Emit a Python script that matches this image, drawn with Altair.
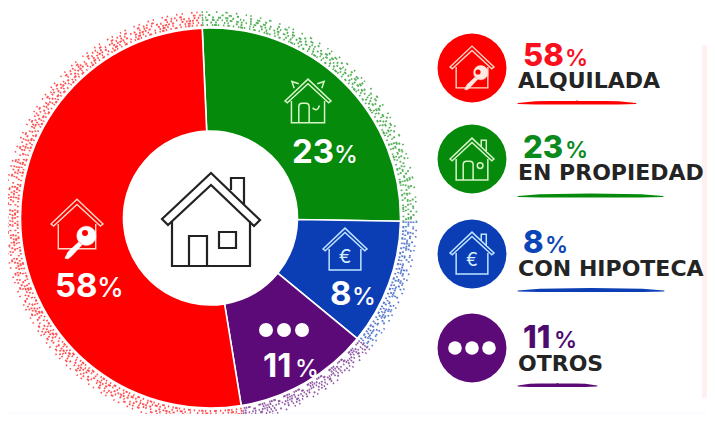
import altair as alt
import pandas as pd

# ---- values ----
categories = ["EN PROPIEDAD", "CON HIPOTECA", "OTROS", "ALQUILADA"]
percent_labels = ["23", "8", "11", "58"]
slice_spans_deg = [93.5, 38.4, 41.3, 186.8]   # slices as actually drawn
start_deg = -2.5
slice_colors = ["#058a0b", "#0b3db5", "#5c0a78", "#ff0000"]
text_colors = ["#0a8a1c", "#0b45b8", "#4f0a70", "#fa0f1e"]

W, H = 699, 406
CX, CY, R_OUT, R_IN = 210.5, 218, 190, 87

xs = alt.Scale(domain=[8, 8 + W], nice=False, zero=False)
ys = alt.Scale(domain=[8 + H, 8], nice=False, zero=False)
X = lambda f="x": alt.X(f"{f}:Q", scale=xs, axis=None)
Y = lambda f="y": alt.Y(f"{f}:Q", scale=ys, axis=None)
TAU = 6.283185307
off = start_deg / 360 * TAU
TH = alt.Scale(domain=[0, 360], range=[off, off + TAU])

starts, acc = [], 0
for s in slice_spans_deg:
    starts.append(acc)
    acc += s
arcs = pd.DataFrame({"cat": categories, "start": starts,
                     "end": [a + b for a, b in zip(starts, slice_spans_deg)],
                     "color": slice_colors, "x": CX, "y": CY})

def arc_layer(**mk):
    return alt.Chart(arcs).mark_arc(**mk).encode(
        x=X(), y=Y(),
        theta=alt.Theta("start:Q", scale=TH),
        theta2=alt.Theta2("end:Q"),
    )

layers = []

# faint page tints
panel = pd.DataFrame({"x": [702, 8], "x2": [707, 707], "y": [45, 412], "y2": [398, 414], "c": ["#fff1ef", "#fbfcff"]})
layers.append(alt.Chart(panel).mark_rect().encode(
    x=X(), x2="x2:Q", y=Y(), y2="y2:Q", color=alt.Color("c:N", scale=None)))

# speckled rim: irregularly dashed rings in each slice's colour
rings = [(193, [1.6, 3, 1.4, 6, 1.8, 2, 1.4, 9], 1.9),
         (195.5, [1.4, 7, 1.8, 3, 1.4, 11], 2.0),
         (198, [1.8, 2, 1.4, 5, 1.6, 8, 1.4, 3], 1.8),
         (200.5, [1.4, 9, 1.8, 4, 1.4, 6, 1.6, 13], 2.0),
         (203, [1.6, 5, 1.4, 12, 1.8, 7], 1.8),
         (206, [1.4, 13, 1.6, 8, 1.4, 19], 1.7)]
for r, dash, sw in rings:
    layers.append(arc_layer(radius=r, radius2=r, filled=False, strokeDash=dash,
                            strokeWidth=sw, opacity=0.68).encode(
        stroke=alt.Stroke("color:N", scale=None)))

# donut
layers.append(arc_layer(radius=R_OUT, radius2=R_IN, stroke="white", strokeWidth=1.6).encode(
    fill=alt.Fill("color:N", scale=None)))

HOUSE = ("M-1,0 L0,-0.95 L1,0 L0.9,0.08 L0,-0.75 L-0.9,0.08 Z "
         "M-0.72,0 V0.95 H0.72 V0")
DOOR = "M-0.4,0.95 V0.25 Q-0.4,0.1 -0.25,0.1 H-0.1 Q0.05,0.1 0.05,0.25 V0.95"
HOUSE_DOOR = HOUSE + " " + DOOR
WINDOW_DOT = " M0.5,0.3 A0.13,0.13 0 1 1 0.24,0.3 A0.13,0.13 0 1 1 0.5,0.3"
CHIMNEY = " M0.42,-0.55 V-0.85 H0.65 V-0.3"
CENTER = ("M-0.98,-0.02 L0,-0.94 L0.98,0 L0.86,0.12 L0,-0.7 L-0.86,0.1 Z "
          "M-0.78,0.02 V0.92 H0.78 V0.02 "
          "M-0.44,0.92 V0.32 H-0.08 V0.92 "
          "M0.16,0.24 H0.5 V0.56 H0.16 Z "
          "M0.4,-0.6 V-0.84 H0.66 V-0.32")
KEY = ("M-0.95,0.95 L-0.75,0.55 L-0.05,-0.1 L0.15,0.1 L-0.55,0.85 L-0.75,1.0 Z "
       "M1,-0.45 A0.6,0.6 0 1 0 -0.2,-0.45 A0.6,0.6 0 1 0 1,-0.45 Z")


def icon(path, x, y, half, color="#ffffff", sw=1.6, filled=False, op=1):
    mk = dict(shape=path, size=(2 * half) ** 2, filled=filled, opacity=op)
    if filled:
        mk.update(fill=color, stroke=color, strokeWidth=0.4)
    else:
        mk.update(stroke=color, strokeWidth=sw)
    return alt.Chart(pd.DataFrame({"x": [x], "y": [y]})).mark_point(**mk).encode(x=X(), y=Y())


def txt(s, x, y, size, color, weight="bold", font="Inter", align="left"):
    return alt.Chart(pd.DataFrame({"x": [x], "y": [y], "t": [s]})).mark_text(
        align=align, baseline="alphabetic", fontSize=size, fontWeight=weight,
        font=font, color=color).encode(x=X(), y=Y(), text="t:N")


def dots(xs_, y, r, color="#ffffff"):
    return alt.Chart(pd.DataFrame({"x": xs_, "y": [y] * len(xs_)})).mark_point(
        shape="circle", filled=True, opacity=1, size=3.1416 * r * r * 1.27, fill=color, strokeWidth=0
    ).encode(x=X(), y=Y())


# centre house
layers.append(icon(CENTER, 211, 220, 50, "#222222", 2.2))

# donut icons and figures
G = "#d8f5c8"
layers += [
    icon(HOUSE_DOOR + " M0.2,0.3 Q0.4,0.5 0.5,0.2", 308, 101, 23, G, 1.5),
    icon("M-0.6,-0.55 L-0.7,-0.85 L-0.4,-0.75 M0.6,-0.55 L0.7,-0.85 L0.4,-0.75", 308, 101, 23, G, 1.5),
    txt("23", 292, 163, 33, "#ffffff"), txt("%", 334, 163, 24, "#ffffff", 500),

    icon(HOUSE, 77, 224, 26, "#ffd9c8", 1.4),
    icon(KEY, 80, 243, 16, "#ffffff", filled=True),
    dots([85], 233, 3, "#ff0000"),
    txt("58", 55, 297, 33, "#ffffff"), txt("%", 97, 297, 27, "#ffffff", 500),

    icon(HOUSE, 345, 249, 22, "#bfe4ff", 1.5),
    txt("€", 345, 263, 19, "#d5edff", "normal", align="center"),
    txt("8", 330, 305, 33, "#ffffff"), txt("%", 352, 305, 24, "#ffffff", 500),

    dots([266, 284, 302], 330, 7),
    txt("11", 263, 377, 33, "#ffffff"), txt("%", 295, 377, 24, "#ffffff", 500),
]

# legend
leg_y = {"ALQUILADA": (68, 66, 88, 102.5, 636), "EN PROPIEDAD": (159, 158, 180, 195.5, 663),
         "CON HIPOTECA": (254, 253, 276, 290, 664), "OTROS": (348, 348, 371, 385, 597)}
pct_x = {"ALQUILADA": 565, "EN PROPIEDAD": 565, "CON HIPOTECA": 545, "OTROS": 554}
taper_frac = [0.0, 0.15, 0.5, 0.85, 1.0]
taper_size = [1.0, 3.2, 4.0, 3.2, 1.0]
taper_bow = [1.0, 0.3, 0.0, 0.3, 1.0]
for cat, pct, col, tcol in zip(categories, percent_labels, slice_colors, text_colors):
    cy, py, ly, uy, ux = leg_y[cat]
    layers.append(alt.Chart(pd.DataFrame({"x": [472], "y": [cy]})).mark_point(
        shape="circle", filled=True, opacity=1, size=3.1416 * 34.5 ** 2 * 1.27, fill=col, strokeWidth=0
    ).encode(x=X(), y=Y()))
    layers.append(txt(pct, 523, py, 31, tcol, 800))
    layers.append(txt("%", pct_x[cat], py, 23, tcol, 600))
    layers.append(txt(cat, 518, ly, 22, "#242424", "bold", "DejaVu Sans"))
    under = pd.DataFrame({"x": [518 + (ux - 518) * f for f in taper_frac],
                          "y": [uy + b for b in taper_bow], "s": taper_size})
    layers.append(alt.Chart(under).mark_trail(color=col).encode(
        x=X(), y=Y(), size=alt.Size("s:Q", scale=None, legend=None)))

layers += [
    icon(HOUSE, 472, 67, 22, "#ffd9c8", 1.4),
    icon(KEY, 476, 78, 12, "#ffe8e0", filled=True),
    dots([478], 72, 2.6, "#ff0000"),
    icon(HOUSE_DOOR + WINDOW_DOT + CHIMNEY, 472, 159, 22, G, 1.5),
    icon(HOUSE + CHIMNEY, 472, 253, 22, "#bfe4ff", 1.5),
    txt("€", 472, 266, 18, "#d5edff", "normal", align="center"),
    dots([455, 472, 489], 348, 6.8),
]

chart = alt.layer(*layers).properties(
    width=W, height=H, padding=0, background="white",
    autosize=alt.AutoSizeParams(type="none"),
).configure_view(stroke=None)

chart.save("out.html", embed_options={"renderer": "svg", "actions": False})
